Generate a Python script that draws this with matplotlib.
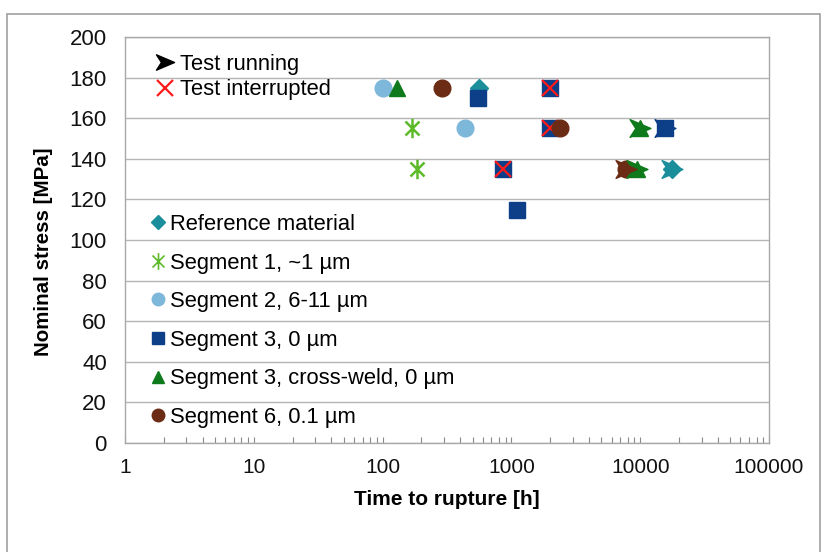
import matplotlib
matplotlib.use("Agg")
import matplotlib.pyplot as plt
from matplotlib.path import Path
from matplotlib.lines import Line2D
from matplotlib.patches import Rectangle
import matplotlib.ticker as mticker
import numpy as np

plt.rcParams['font.family'] = ['Liberation Sans', 'DejaVu Sans']

# ---- data ----
series_names = ["Reference material", "Segment 1, ~1 µm", "Segment 2, 6-11 µm",
                "Segment 3, 0 µm", "Segment 3, cross-weld, 0 µm", "Segment 6, 0.1 µm"]
ref_x = [560, 17600]
ref_y = [175, 135]
seg1_x = [170, 185]
seg1_y = [155, 135]
seg2_x = [100, 440]
seg2_y = [175, 155]
seg3_x = [550, 2000, 2000, 860, 1100, 15500]
seg3_y = [170, 175, 155, 135, 115, 155]
seg3cw_x = [130, 10000, 9500]
seg3cw_y = [175, 155, 135]
seg6_x = [290, 2400, 7800]
seg6_y = [175, 155, 135]

running_x = [17600, 15500, 10000, 9500, 7800]
running_y = [135, 155, 155, 135, 135]
running_series = [0, 3, 4, 4, 5]
interrupted_x = [2000, 2000, 860]
interrupted_y = [175, 155, 135]

colors = ["#1B8E9B", "#5DBB2A", "#7DB7DA", "#0C3F87", "#0F7A1C", "#6B2B15"]

# asterisk-like marker (vertical bar + X)
star = Path([(0, -1), (0, 1), (-0.72, -0.72), (0.72, 0.72), (-0.72, 0.72), (0.72, -0.72)],
            [Path.MOVETO, Path.LINETO, Path.MOVETO, Path.LINETO, Path.MOVETO, Path.LINETO])
markers = ["D", star, "o", "s", "^", "o"]
msizes = [9, 12, 12, 12, 12, 12]

# dart-shaped marker for running tests
dart = Path([(-1.0, -0.85), (1.0, 0.0), (-1.0, 0.85), (-0.45, 0.0), (-1.0, -0.85)],
            [Path.MOVETO, Path.LINETO, Path.LINETO, Path.LINETO, Path.CLOSEPOLY])

FS = 15.8

fig = plt.figure(figsize=(8.27, 5.52), dpi=100)
ax = fig.add_axes([125/827, 1-443/552, (769-125)/827, (443-37)/552])

# outer chart border
fig.patches.append(Rectangle((7/827, -0.02), (820-7)/827, 1-14/552+0.02,
                             transform=fig.transFigure, fill=False,
                             edgecolor="#A0A0A0", lw=1.2))

xs = [ref_x, seg1_x, seg2_x, seg3_x, seg3cw_x, seg6_x]
ys = [ref_y, seg1_y, seg2_y, seg3_y, seg3cw_y, seg6_y]
handles = []
for i in range(6):
    kw = dict(linestyle="none", marker=markers[i], markersize=msizes[i], color=colors[i],
              markeredgecolor=colors[i])
    if i == 1:
        kw.update(markeredgewidth=1.8, markersize=14)
    ax.plot(xs[i], ys[i], zorder=3 + i * 0.01, **kw)
    h = Line2D([], [], linestyle="none", marker=markers[i], color=colors[i],
               markeredgecolor=colors[i],
               markersize=(12 if i == 1 else (7 if i == 0 else 9)),
               markeredgewidth=(1.2 if i == 1 else 1))
    handles.append(h)

# running tests arrows
for x, y, s in zip(running_x, running_y, running_series):
    ax.plot([x], [y], linestyle="none", marker=dart, markersize=15,
            color=colors[s], markeredgecolor=colors[s], zorder=4)

# interrupted tests
ax.plot(interrupted_x, interrupted_y, linestyle="none", marker="x", markersize=12,
        markeredgewidth=1.6, color="#FF1A1A", zorder=3.035)

ax.set_xscale("log")
ax.set_xlim(1, 100000)
ax.set_ylim(0, 200)
ax.set_yticks(np.arange(0, 201, 20))
ax.xaxis.set_major_locator(mticker.LogLocator(base=10, numticks=10))
ax.xaxis.set_minor_locator(mticker.LogLocator(base=10, subs=np.arange(2, 10), numticks=20))
ax.xaxis.set_major_formatter(mticker.FuncFormatter(lambda v, p: f"{int(round(v))}"))
ax.xaxis.set_minor_formatter(mticker.NullFormatter())
ax.tick_params(axis="x", which="both", direction="in", length=4, width=0.8,
               color="#888888", labelsize=15, pad=11, labelcolor="#111111")
ax.tick_params(axis="y", which="both", length=0, labelsize=16, pad=13,
               labelcolor="#111111")
ax.grid(axis="y", color="#B5B5B5", lw=1.0)
ax.set_axisbelow(True)
for sp in ax.spines.values():
    sp.set_color("#A8A8A8")
    sp.set_linewidth(1.0)

ax.set_xlabel("Time to rupture [h]", fontsize=15, fontweight="bold", labelpad=9)
ax.set_ylabel("Nominal stress [MPa]", fontsize=14.8, fontweight="bold")
ax.yaxis.set_label_coords((53 - 125) / 644, (443 - 252) / 406)

leg1 = ax.legend(handles, series_names, loc="upper left", bbox_to_anchor=(0.041, 0.564),
                 frameon=False, fontsize=FS, handlelength=0.6, handletextpad=0.25,
                 labelspacing=0.8, borderpad=0, borderaxespad=0)
ax.add_artist(leg1)

h_run = Line2D([], [], linestyle="none", marker=dart, markersize=13, color="black")
h_int = Line2D([], [], linestyle="none", marker="x", markersize=11,
               markeredgewidth=1.6, color="#FF1A1A")
leg2 = ax.legend([h_run, h_int], ["Test running", "Test interrupted"], loc="upper left",
                 bbox_to_anchor=(0.052, 0.958), frameon=False, fontsize=FS,
                 handlelength=0.6, handletextpad=0.4, labelspacing=0.2,
                 borderpad=0, borderaxespad=0)

fig.savefig("out.png", dpi=100)
